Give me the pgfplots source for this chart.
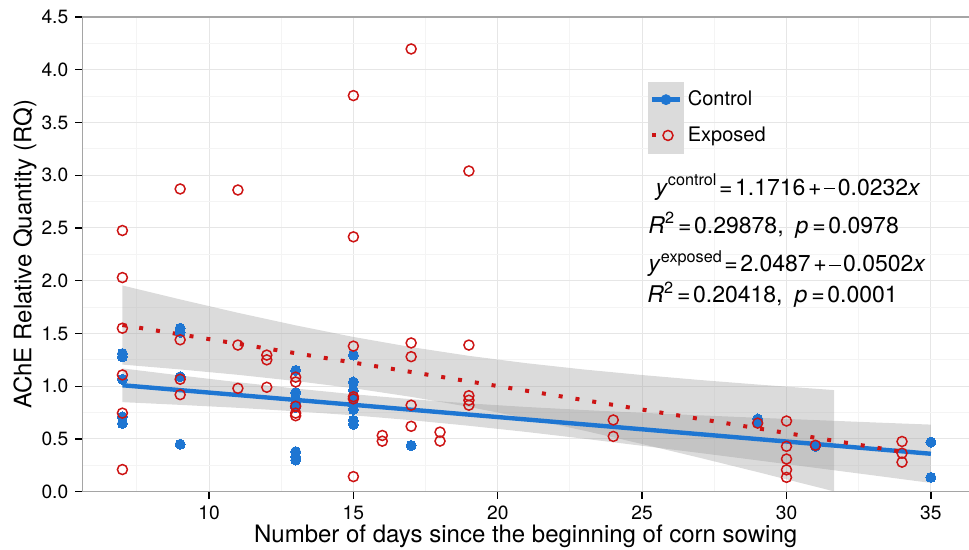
\documentclass[border=0pt]{standalone}
\usepackage{fontspec}
\setmainfont{TeX Gyre Heros}
\usepackage{pgfplots}
\pgfplotsset{compat=1.18}
\definecolor{ctrlblue}{RGB}{30,118,210}
\definecolor{expred}{RGB}{205,20,20}
\definecolor{majgrid}{RGB}{230,230,230}
\definecolor{mingrid}{RGB}{244,244,244}
\definecolor{axgrey}{RGB}{165,165,165}
\definecolor{keygrey}{RGB}{219,219,219}
\newcommand{\sups}[1]{\raisebox{4.8bp}{\fontsize{8.1bp}{9bp}\selectfont #1}}
\newcommand{\mn}{\rule[2.9bp]{5.6bp}{0.75bp}}
\newcommand{\gp}{\hspace{1.3bp}}
\begin{document}
\begin{tikzpicture}
\path[use as bounding box] (0,0) rectangle (484.5bp,275bp);
\begin{axis}[
  at={(41.15bp,29.15bp)}, anchor=south west,
  scale only axis, width=443.35bp, height=237.35bp,
  xmin=5.611, xmax=36.32, ymin=0, ymax=4.5,
  axis x line*=box, axis y line*=left,
  xtick pos=bottom, ytick pos=left,
  axis line style={axgrey, line width=0.75bp},
  tick align=outside, major tick length=3.5bp, minor tick length=0pt,
  tick style={black, line width=0.7bp},
  xtick={10,15,20,25,30,35},
  ytick={0,0.5,1,1.5,2,2.5,3,3.5,4,4.5},
  minor xtick={7.5,12.5,17.5,22.5,27.5,32.5},
  minor ytick={0.25,0.75,1.25,1.75,2.25,2.75,3.25,3.75,4.25},
  grid=both,
  major grid style={majgrid, line width=0.5bp},
  minor grid style={mingrid, line width=0.5bp},
  /pgf/number format/assume math mode=true,
  yticklabel={\pgfmathprintnumber[fixed,fixed zerofill,precision=1]{\tick}},
  ticklabel style={font=\fontsize{9.6bp}{11bp}\selectfont},
  label style={font=\fontsize{12bp}{14bp}\selectfont},
  xlabel={Number of days since the beginning of corn sowing},
  ylabel={AChE Relative Quantity (RQ)},
  xlabel style={at={(axis description cs:0.5,-0.108)}, anchor=base},
  ylabel style={at={(axis description cs:-0.0646,0.5)}, anchor=center},
  legend style={at={(axis cs:25.206,3.886)}, anchor=north west, draw=none, fill=none,
    inner sep=0pt, outer sep=0pt, row sep=0pt, column sep=0pt,
    font=\fontsize{10bp}{12bp}\selectfont, nodes={inner sep=0pt}},
  legend cell align=left,
]
\addlegendimage{legend image code/.code={
  \fill[keygrey] (0bp,-8.75bp) rectangle (17.5bp,8.75bp);
  \draw[ctrlblue, line width=2.2bp] (1.85bp,0) -- (15.65bp,0);
  \fill[ctrlblue] (8.75bp,0) circle (2.5bp);}}
\addlegendentry{\hspace{2bp}Control}
\addlegendimage{legend image code/.code={
  \fill[keygrey] (0bp,-8.75bp) rectangle (17.5bp,8.75bp);
  \draw[expred, line width=2bp, dash pattern=on 2bp off 6.5bp] (1.85bp,0) -- (15.65bp,0);
  \draw[expred, line width=0.75bp, fill=keygrey] (9.75bp,0) circle (2.5bp);}}
\addlegendentry{\hspace{2bp}Exposed}

% control points
\addplot[only marks, mark=*, mark size=2.5bp, mark options={fill=ctrlblue, draw=ctrlblue, line width=0pt}, forget plot] coordinates {
(7,1.31) (7,1.28) (7,1.066) (7,0.71) (7,0.647)
(9,1.55) (9,1.51) (9,1.09) (9,0.45)
(13,1.15) (13,0.94) (13,0.88) (13,0.84) (13,0.80) (13,0.38) (13,0.33) (13,0.30)
(15,1.295) (15,1.04) (15,0.96) (15,0.89) (15,0.82) (15,0.78) (15,0.676) (15,0.638)
(17,0.438) (29,0.69) (29,0.66) (31,0.44) (31,0.43) (35,0.47) (35,0.136)};
% exposed points
\addplot[only marks, mark=o, mark size=2.5bp, mark options={draw=expred, line width=0.75bp}, forget plot] coordinates {
(7,2.476) (7,2.03) (7,1.55) (7,1.107) (7,0.745) (7,0.21)
(9,2.87) (9,1.44) (9,1.066) (9,0.92)
(11,2.86) (11,1.39) (11,0.98)
(12,1.295) (12,1.25) (12,0.99)
(13,1.086) (13,1.04) (13,0.81) (13,0.745) (13,0.72)
(15,3.755) (15,2.416) (15,1.38) (15,0.90) (15,0.88) (15,0.143)
(16,0.533) (16,0.479)
(17,4.197) (17,1.41) (17,1.28) (17,0.82) (17,0.62)
(18,0.565) (18,0.48)
(19,3.04) (19,1.39) (19,0.91) (19,0.867) (19,0.82)
(24,0.68) (24,0.524)
(29,0.65)
(30,0.67) (30,0.43) (30,0.31) (30,0.207) (30,0.136)
(31,0.44)
(34,0.476) (34,0.365) (34,0.28)};
% confidence bands
\addplot[draw=none, fill=black!40, fill opacity=0.35, forget plot] coordinates {
(7,1.169) (9,1.102) (11,1.038) (13,0.978) (15,0.924) (17,0.877) (19,0.837) (21,0.803)
(23,0.774) (25,0.748) (27,0.724) (29,0.701) (31,0.679) (33,0.657) (35,0.636)
(35,0.083) (33,0.155) (31,0.226) (29,0.297) (27,0.367) (25,0.435) (23,0.502) (21,0.566)
(19,0.625) (17,0.678) (15,0.724) (13,0.762) (11,0.795) (9,0.823) (7,0.849)} -- cycle;
\addplot[draw=none, fill=black!40, fill opacity=0.35, forget plot] coordinates {
(7,1.955) (9,1.823) (11,1.696) (13,1.577) (15,1.467) (17,1.371) (19,1.288) (21,1.218)
(23,1.158) (25,1.106) (27,1.059) (29,1.016) (31,0.976) (31.65,0.963)
(31.65,0.003) (31,0.048) (29,0.186) (27,0.321) (25,0.452) (23,0.578) (21,0.696)
(19,0.804) (17,0.899) (15,0.981) (13,1.049) (11,1.108) (9,1.159) (7,1.205)} -- cycle;
% fitted lines
\addplot[ctrlblue, line width=2.2bp, forget plot] coordinates {(7,1.0092) (35,0.3596)};
\addplot[expred, line width=2bp, dash pattern=on 2bp off 6.5bp, forget plot] coordinates {(7,1.58) (34,0.378)};
% equations
\node[anchor=base west, inner sep=0pt, font=\fontsize{11.5bp}{14bp}\selectfont] at (axis cs:25.449,2.812)
  {\textit{y}\sups{control}\gp=\gp1.1716\gp+\gp\mn\gp0.0232\textit{x}};
\node[anchor=base west, inner sep=0pt, font=\fontsize{11.5bp}{14bp}\selectfont] at (axis cs:25.206,2.452)
  {\textit{R}\sups{2}\hspace{2bp}=\gp0.29878,\hspace{6bp}\textit{p}\hspace{2bp}=\gp0.0978};
\node[anchor=base west, inner sep=0pt, font=\fontsize{11.5bp}{14bp}\selectfont] at (axis cs:25.206,2.083)
  {\textit{y}\sups{exposed}\gp=\gp2.0487\gp+\gp\mn\gp0.0502\textit{x}};
\node[anchor=base west, inner sep=0pt, font=\fontsize{11.5bp}{14bp}\selectfont] at (axis cs:25.17,1.789)
  {\textit{R}\sups{2}\hspace{2bp}=\gp0.20418,\hspace{6bp}\textit{p}\hspace{2bp}=\gp0.0001};
\end{axis}
\end{tikzpicture}
\end{document}
